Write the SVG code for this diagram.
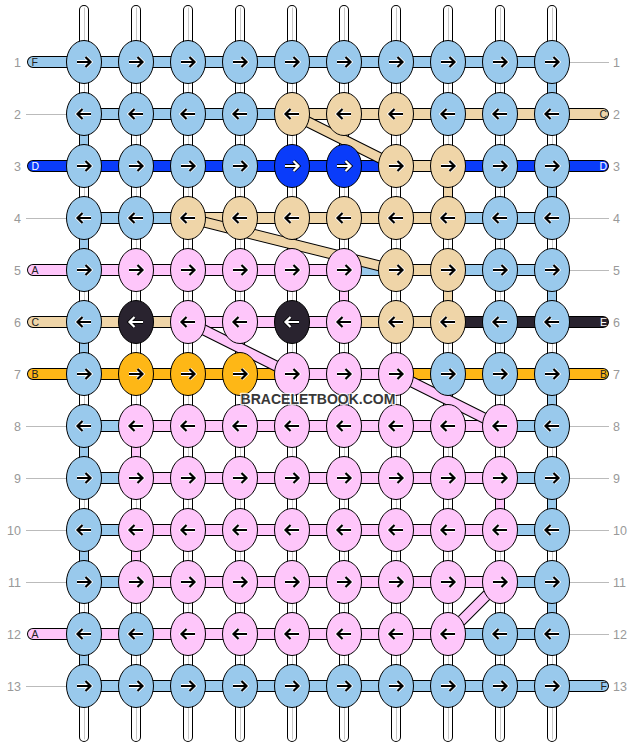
<svg xmlns="http://www.w3.org/2000/svg" width="636" height="748" viewBox="0 0 636 748">
<style>
.L{fill:#99c9ec}.T{fill:#efd5a8}.D{fill:#0a3cfa}.P{fill:#fec6fa}.K{fill:#29232f}.O{fill:#feb716}
.sL{stroke:#99c9ec}.sT{stroke:#efd5a8}.sD{stroke:#0a3cfa}.sP{stroke:#fec6fa}.sK{stroke:#29232f}.sO{stroke:#feb716}
.ho{stroke:#000;stroke-width:12;fill:none;stroke-linecap:round}
.hf{stroke-width:10;fill:none;stroke-linecap:round}
.vo{stroke:#000;stroke-width:10;fill:none}
.vf{stroke-width:8;fill:none}
.do{stroke:#000;stroke-width:11;fill:none}
.df{stroke-width:9;fill:none}
.num{font-family:"Liberation Sans",Arial,sans-serif;font-size:12.5px;fill:#999}
.lab{font-family:"Liberation Sans",Arial,sans-serif;font-size:10.5px;fill:#222}
.lw{fill:#fff}
.guide{stroke:#bbb;stroke-width:1}
.ah{stroke-width:3.8;fill:none}
.ab{stroke-width:2.2;fill:none}
</style>
<defs>
<ellipse id="e" cx="0" cy="0" rx="17.5" ry="21.5" stroke="#000" stroke-width="1"/>
<path id="pr" d="M-7 0H6M1.5-5L6.5 0L1.5 5"/>
<path id="pl" d="M7 0H-6M-1.5-5L-6.5 0L-1.5 5"/>
<g id="r"><use href="#pr" class="ah" stroke="#fff"/><use href="#pr" class="ab" stroke="#000"/></g>
<g id="l"><use href="#pl" class="ah" stroke="#fff"/><use href="#pl" class="ab" stroke="#000"/></g>
<g id="rw"><use href="#pr" class="ah" stroke="#000"/><use href="#pr" class="ab" stroke="#fff"/></g>
<g id="lw"><use href="#pl" class="ah" stroke="#000"/><use href="#pl" class="ab" stroke="#fff"/></g>
</defs>
<rect width="636" height="748" fill="#fff"/>
<g id="connectors">
<g id="tubes" fill="none" stroke-linecap="round">
<path stroke="#000" stroke-width="10" d="M84 10V737M136 10V737M188 10V737M240 10V737M292 10V737M344 10V737M396 10V737M448 10V737M500 10V737M552 10V737"/>
<path stroke="#fff" stroke-width="8" d="M84 10V737M136 10V737M188 10V737M240 10V737M292 10V737M344 10V737M396 10V737M448 10V737M500 10V737M552 10V737"/>
<path stroke="#c8c8c8" stroke-width="1" d="M84.5 8V739M136.5 8V739M188.5 8V739M240.5 8V739M292.5 8V739M344.5 8V739M396.5 8V739M448.5 8V739M500.5 8V739M552.5 8V739"/>
</g>
<g id="guides" class="guide">
<path d="M26 114.5H66M26 218.5H66M26 426.5H66M26 478.5H66M26 530.5H66M26 582.5H66M26 686.5H66"/>
<path d="M570 62.5H609M570 218.5H609M570 270.5H609M570 426.5H609M570 478.5H609M570 530.5H609M570 582.5H609M570 634.5H609"/>
</g>
<g id="strings">
<path class="ho" d="M33 62H552M84 114H603M33 166H603M84 218H552M33 270H552M33 322H603M33 374H603M84 426H552M84 478H552M84 530H552M84 582H552M33 634H552M84 686H603"/>
<path class="vo" d="M552 62V114M84 114V166M552 166V218M84 218V270M552 270V322M84 322V374M552 374V426M84 426V478M552 478V530M84 530V582M552 582V634M84 634V686M448 166V218M448 270V322M344 270V322M136 426V478M500 478V530M136 530V582"/>
<path class="hf sL" d="M33 62H552M84 114H292M84 218H188M448 218H552M344 270H396M448 270H552M84 426H136M500 426H552M84 478H136M500 478H552M84 530H136M500 530H552M84 582H136M500 582H552M448 634H552M84 686H603"/>
<path class="hf sT" d="M292 114H603M396 166H448M188 218H448M396 270H448M33 322H188M344 322H448"/>
<path class="hf sD" d="M33 166H396M448 166H603"/>
<path class="hf sP" d="M33 270H344M188 322H344M292 374H396M136 426H500M136 478H500M136 530H500M136 582H500M33 634H448"/>
<path class="hf sK" d="M448 322H603"/>
<path class="hf sO" d="M33 374H292M396 374H603"/>
<path class="vf sL" d="M552 62V114M84 114V166M552 166V218M84 218V270M552 270V322M84 322V374M552 374V426M84 426V478M552 478V530M84 530V582M552 582V634M84 634V686"/>
<path class="vf sT" d="M448 166V218M448 270V322"/>
<path class="vf sP" d="M344 270V322M136 426V478M500 478V530M136 530V582"/>
</g>
<g id="diagonals">
<path class="do" d="M292 114L396 166M188 218L396 270M188 322L292 374M396 374L500 426M500 582L448 634"/>
<path class="df sT" d="M292 114L396 166M188 218L396 270"/>
<path class="df sP" d="M188 322L292 374M396 374L500 426M500 582L448 634"/>
</g>
</g>
<g id="caps">
<text class="lab" x="31.5" y="66">F</text>
<text class="lab lw" x="31.5" y="170">D</text>
<text class="lab" x="31.5" y="274">A</text>
<text class="lab" x="31.5" y="326">C</text>
<text class="lab" x="31.5" y="378">B</text>
<text class="lab" x="31.5" y="638">A</text>
<text class="lab" x="607" y="118" text-anchor="end">C</text>
<text class="lab lw" x="607" y="170" text-anchor="end">D</text>
<text class="lab lw" x="607" y="326" text-anchor="end">E</text>
<text class="lab" x="607" y="378" text-anchor="end">B</text>
<text class="lab" x="607" y="690" text-anchor="end">F</text>
</g>
<g id="rownumbers" class="num">
<text x="21" y="66.5" text-anchor="end">1</text><text x="21" y="118.5" text-anchor="end">2</text><text x="21" y="170.5" text-anchor="end">3</text><text x="21" y="222.5" text-anchor="end">4</text><text x="21" y="274.5" text-anchor="end">5</text><text x="21" y="326.5" text-anchor="end">6</text><text x="21" y="378.5" text-anchor="end">7</text><text x="21" y="430.5" text-anchor="end">8</text><text x="21" y="482.5" text-anchor="end">9</text><text x="21" y="534.5" text-anchor="end">10</text><text x="21" y="586.5" text-anchor="end">11</text><text x="21" y="638.5" text-anchor="end">12</text><text x="21" y="690.5" text-anchor="end">13</text>
<text x="613" y="66.5">1</text><text x="613" y="118.5">2</text><text x="613" y="170.5">3</text><text x="613" y="222.5">4</text><text x="613" y="274.5">5</text><text x="613" y="326.5">6</text><text x="613" y="378.5">7</text><text x="613" y="430.5">8</text><text x="613" y="482.5">9</text><text x="613" y="534.5">10</text><text x="613" y="586.5">11</text><text x="613" y="638.5">12</text><text x="613" y="690.5">13</text>
</g>
<g id="knots">
<g id="k1-1"><use href="#e" class="L" x="84" y="62"/><use href="#r" x="84" y="62"/></g>
<g id="k1-2"><use href="#e" class="L" x="136" y="62"/><use href="#r" x="136" y="62"/></g>
<g id="k1-3"><use href="#e" class="L" x="188" y="62"/><use href="#r" x="188" y="62"/></g>
<g id="k1-4"><use href="#e" class="L" x="240" y="62"/><use href="#r" x="240" y="62"/></g>
<g id="k1-5"><use href="#e" class="L" x="292" y="62"/><use href="#r" x="292" y="62"/></g>
<g id="k1-6"><use href="#e" class="L" x="344" y="62"/><use href="#r" x="344" y="62"/></g>
<g id="k1-7"><use href="#e" class="L" x="396" y="62"/><use href="#r" x="396" y="62"/></g>
<g id="k1-8"><use href="#e" class="L" x="448" y="62"/><use href="#r" x="448" y="62"/></g>
<g id="k1-9"><use href="#e" class="L" x="500" y="62"/><use href="#r" x="500" y="62"/></g>
<g id="k1-10"><use href="#e" class="L" x="552" y="62"/><use href="#r" x="552" y="62"/></g>
<g id="k2-1"><use href="#e" class="L" x="84" y="114"/><use href="#l" x="84" y="114"/></g>
<g id="k2-2"><use href="#e" class="L" x="136" y="114"/><use href="#l" x="136" y="114"/></g>
<g id="k2-3"><use href="#e" class="L" x="188" y="114"/><use href="#l" x="188" y="114"/></g>
<g id="k2-4"><use href="#e" class="L" x="240" y="114"/><use href="#l" x="240" y="114"/></g>
<g id="k2-5"><use href="#e" class="T" x="292" y="114"/><use href="#l" x="292" y="114"/></g>
<g id="k2-6"><use href="#e" class="T" x="344" y="114"/><use href="#l" x="344" y="114"/></g>
<g id="k2-7"><use href="#e" class="T" x="396" y="114"/><use href="#l" x="396" y="114"/></g>
<g id="k2-8"><use href="#e" class="L" x="448" y="114"/><use href="#l" x="448" y="114"/></g>
<g id="k2-9"><use href="#e" class="L" x="500" y="114"/><use href="#l" x="500" y="114"/></g>
<g id="k2-10"><use href="#e" class="L" x="552" y="114"/><use href="#l" x="552" y="114"/></g>
<g id="k3-1"><use href="#e" class="L" x="84" y="166"/><use href="#r" x="84" y="166"/></g>
<g id="k3-2"><use href="#e" class="L" x="136" y="166"/><use href="#r" x="136" y="166"/></g>
<g id="k3-3"><use href="#e" class="L" x="188" y="166"/><use href="#r" x="188" y="166"/></g>
<g id="k3-4"><use href="#e" class="L" x="240" y="166"/><use href="#r" x="240" y="166"/></g>
<g id="k3-5"><use href="#e" class="D" x="292" y="166"/><use href="#rw" x="292" y="166"/></g>
<g id="k3-6"><use href="#e" class="D" x="344" y="166"/><use href="#rw" x="344" y="166"/></g>
<g id="k3-7"><use href="#e" class="T" x="396" y="166"/><use href="#r" x="396" y="166"/></g>
<g id="k3-8"><use href="#e" class="T" x="448" y="166"/><use href="#r" x="448" y="166"/></g>
<g id="k3-9"><use href="#e" class="L" x="500" y="166"/><use href="#r" x="500" y="166"/></g>
<g id="k3-10"><use href="#e" class="L" x="552" y="166"/><use href="#r" x="552" y="166"/></g>
<g id="k4-1"><use href="#e" class="L" x="84" y="218"/><use href="#l" x="84" y="218"/></g>
<g id="k4-2"><use href="#e" class="L" x="136" y="218"/><use href="#l" x="136" y="218"/></g>
<g id="k4-3"><use href="#e" class="T" x="188" y="218"/><use href="#l" x="188" y="218"/></g>
<g id="k4-4"><use href="#e" class="T" x="240" y="218"/><use href="#l" x="240" y="218"/></g>
<g id="k4-5"><use href="#e" class="T" x="292" y="218"/><use href="#l" x="292" y="218"/></g>
<g id="k4-6"><use href="#e" class="T" x="344" y="218"/><use href="#l" x="344" y="218"/></g>
<g id="k4-7"><use href="#e" class="T" x="396" y="218"/><use href="#l" x="396" y="218"/></g>
<g id="k4-8"><use href="#e" class="T" x="448" y="218"/><use href="#l" x="448" y="218"/></g>
<g id="k4-9"><use href="#e" class="L" x="500" y="218"/><use href="#l" x="500" y="218"/></g>
<g id="k4-10"><use href="#e" class="L" x="552" y="218"/><use href="#l" x="552" y="218"/></g>
<g id="k5-1"><use href="#e" class="L" x="84" y="270"/><use href="#r" x="84" y="270"/></g>
<g id="k5-2"><use href="#e" class="P" x="136" y="270"/><use href="#r" x="136" y="270"/></g>
<g id="k5-3"><use href="#e" class="P" x="188" y="270"/><use href="#r" x="188" y="270"/></g>
<g id="k5-4"><use href="#e" class="P" x="240" y="270"/><use href="#r" x="240" y="270"/></g>
<g id="k5-5"><use href="#e" class="P" x="292" y="270"/><use href="#r" x="292" y="270"/></g>
<g id="k5-6"><use href="#e" class="P" x="344" y="270"/><use href="#r" x="344" y="270"/></g>
<g id="k5-7"><use href="#e" class="T" x="396" y="270"/><use href="#r" x="396" y="270"/></g>
<g id="k5-8"><use href="#e" class="T" x="448" y="270"/><use href="#r" x="448" y="270"/></g>
<g id="k5-9"><use href="#e" class="L" x="500" y="270"/><use href="#r" x="500" y="270"/></g>
<g id="k5-10"><use href="#e" class="L" x="552" y="270"/><use href="#r" x="552" y="270"/></g>
<g id="k6-1"><use href="#e" class="L" x="84" y="322"/><use href="#l" x="84" y="322"/></g>
<g id="k6-2"><use href="#e" class="K" x="136" y="322"/><use href="#lw" x="136" y="322"/></g>
<g id="k6-3"><use href="#e" class="P" x="188" y="322"/><use href="#l" x="188" y="322"/></g>
<g id="k6-4"><use href="#e" class="P" x="240" y="322"/><use href="#l" x="240" y="322"/></g>
<g id="k6-5"><use href="#e" class="K" x="292" y="322"/><use href="#lw" x="292" y="322"/></g>
<g id="k6-6"><use href="#e" class="P" x="344" y="322"/><use href="#l" x="344" y="322"/></g>
<g id="k6-7"><use href="#e" class="T" x="396" y="322"/><use href="#l" x="396" y="322"/></g>
<g id="k6-8"><use href="#e" class="T" x="448" y="322"/><use href="#l" x="448" y="322"/></g>
<g id="k6-9"><use href="#e" class="L" x="500" y="322"/><use href="#l" x="500" y="322"/></g>
<g id="k6-10"><use href="#e" class="L" x="552" y="322"/><use href="#l" x="552" y="322"/></g>
<g id="k7-1"><use href="#e" class="L" x="84" y="374"/><use href="#r" x="84" y="374"/></g>
<g id="k7-2"><use href="#e" class="O" x="136" y="374"/><use href="#r" x="136" y="374"/></g>
<g id="k7-3"><use href="#e" class="O" x="188" y="374"/><use href="#r" x="188" y="374"/></g>
<g id="k7-4"><use href="#e" class="O" x="240" y="374"/><use href="#r" x="240" y="374"/></g>
<g id="k7-5"><use href="#e" class="P" x="292" y="374"/><use href="#r" x="292" y="374"/></g>
<g id="k7-6"><use href="#e" class="P" x="344" y="374"/><use href="#r" x="344" y="374"/></g>
<g id="k7-7"><use href="#e" class="P" x="396" y="374"/><use href="#r" x="396" y="374"/></g>
<g id="k7-8"><use href="#e" class="L" x="448" y="374"/><use href="#r" x="448" y="374"/></g>
<g id="k7-9"><use href="#e" class="L" x="500" y="374"/><use href="#r" x="500" y="374"/></g>
<g id="k7-10"><use href="#e" class="L" x="552" y="374"/><use href="#r" x="552" y="374"/></g>
<g id="k8-1"><use href="#e" class="L" x="84" y="426"/><use href="#l" x="84" y="426"/></g>
<g id="k8-2"><use href="#e" class="P" x="136" y="426"/><use href="#l" x="136" y="426"/></g>
<g id="k8-3"><use href="#e" class="P" x="188" y="426"/><use href="#l" x="188" y="426"/></g>
<g id="k8-4"><use href="#e" class="P" x="240" y="426"/><use href="#l" x="240" y="426"/></g>
<g id="k8-5"><use href="#e" class="P" x="292" y="426"/><use href="#l" x="292" y="426"/></g>
<g id="k8-6"><use href="#e" class="P" x="344" y="426"/><use href="#l" x="344" y="426"/></g>
<g id="k8-7"><use href="#e" class="P" x="396" y="426"/><use href="#l" x="396" y="426"/></g>
<g id="k8-8"><use href="#e" class="P" x="448" y="426"/><use href="#l" x="448" y="426"/></g>
<g id="k8-9"><use href="#e" class="P" x="500" y="426"/><use href="#l" x="500" y="426"/></g>
<g id="k8-10"><use href="#e" class="L" x="552" y="426"/><use href="#l" x="552" y="426"/></g>
<g id="k9-1"><use href="#e" class="L" x="84" y="478"/><use href="#r" x="84" y="478"/></g>
<g id="k9-2"><use href="#e" class="P" x="136" y="478"/><use href="#r" x="136" y="478"/></g>
<g id="k9-3"><use href="#e" class="P" x="188" y="478"/><use href="#r" x="188" y="478"/></g>
<g id="k9-4"><use href="#e" class="P" x="240" y="478"/><use href="#r" x="240" y="478"/></g>
<g id="k9-5"><use href="#e" class="P" x="292" y="478"/><use href="#r" x="292" y="478"/></g>
<g id="k9-6"><use href="#e" class="P" x="344" y="478"/><use href="#r" x="344" y="478"/></g>
<g id="k9-7"><use href="#e" class="P" x="396" y="478"/><use href="#r" x="396" y="478"/></g>
<g id="k9-8"><use href="#e" class="P" x="448" y="478"/><use href="#r" x="448" y="478"/></g>
<g id="k9-9"><use href="#e" class="P" x="500" y="478"/><use href="#r" x="500" y="478"/></g>
<g id="k9-10"><use href="#e" class="L" x="552" y="478"/><use href="#r" x="552" y="478"/></g>
<g id="k10-1"><use href="#e" class="L" x="84" y="530"/><use href="#l" x="84" y="530"/></g>
<g id="k10-2"><use href="#e" class="P" x="136" y="530"/><use href="#l" x="136" y="530"/></g>
<g id="k10-3"><use href="#e" class="P" x="188" y="530"/><use href="#l" x="188" y="530"/></g>
<g id="k10-4"><use href="#e" class="P" x="240" y="530"/><use href="#l" x="240" y="530"/></g>
<g id="k10-5"><use href="#e" class="P" x="292" y="530"/><use href="#l" x="292" y="530"/></g>
<g id="k10-6"><use href="#e" class="P" x="344" y="530"/><use href="#l" x="344" y="530"/></g>
<g id="k10-7"><use href="#e" class="P" x="396" y="530"/><use href="#l" x="396" y="530"/></g>
<g id="k10-8"><use href="#e" class="P" x="448" y="530"/><use href="#l" x="448" y="530"/></g>
<g id="k10-9"><use href="#e" class="P" x="500" y="530"/><use href="#l" x="500" y="530"/></g>
<g id="k10-10"><use href="#e" class="L" x="552" y="530"/><use href="#l" x="552" y="530"/></g>
<g id="k11-1"><use href="#e" class="L" x="84" y="582"/><use href="#r" x="84" y="582"/></g>
<g id="k11-2"><use href="#e" class="P" x="136" y="582"/><use href="#r" x="136" y="582"/></g>
<g id="k11-3"><use href="#e" class="P" x="188" y="582"/><use href="#r" x="188" y="582"/></g>
<g id="k11-4"><use href="#e" class="P" x="240" y="582"/><use href="#r" x="240" y="582"/></g>
<g id="k11-5"><use href="#e" class="P" x="292" y="582"/><use href="#r" x="292" y="582"/></g>
<g id="k11-6"><use href="#e" class="P" x="344" y="582"/><use href="#r" x="344" y="582"/></g>
<g id="k11-7"><use href="#e" class="P" x="396" y="582"/><use href="#r" x="396" y="582"/></g>
<g id="k11-8"><use href="#e" class="P" x="448" y="582"/><use href="#r" x="448" y="582"/></g>
<g id="k11-9"><use href="#e" class="P" x="500" y="582"/><use href="#r" x="500" y="582"/></g>
<g id="k11-10"><use href="#e" class="L" x="552" y="582"/><use href="#r" x="552" y="582"/></g>
<g id="k12-1"><use href="#e" class="L" x="84" y="634"/><use href="#l" x="84" y="634"/></g>
<g id="k12-2"><use href="#e" class="L" x="136" y="634"/><use href="#l" x="136" y="634"/></g>
<g id="k12-3"><use href="#e" class="P" x="188" y="634"/><use href="#l" x="188" y="634"/></g>
<g id="k12-4"><use href="#e" class="P" x="240" y="634"/><use href="#l" x="240" y="634"/></g>
<g id="k12-5"><use href="#e" class="P" x="292" y="634"/><use href="#l" x="292" y="634"/></g>
<g id="k12-6"><use href="#e" class="P" x="344" y="634"/><use href="#l" x="344" y="634"/></g>
<g id="k12-7"><use href="#e" class="P" x="396" y="634"/><use href="#l" x="396" y="634"/></g>
<g id="k12-8"><use href="#e" class="P" x="448" y="634"/><use href="#l" x="448" y="634"/></g>
<g id="k12-9"><use href="#e" class="L" x="500" y="634"/><use href="#l" x="500" y="634"/></g>
<g id="k12-10"><use href="#e" class="L" x="552" y="634"/><use href="#l" x="552" y="634"/></g>
<g id="k13-1"><use href="#e" class="L" x="84" y="686"/><use href="#r" x="84" y="686"/></g>
<g id="k13-2"><use href="#e" class="L" x="136" y="686"/><use href="#r" x="136" y="686"/></g>
<g id="k13-3"><use href="#e" class="L" x="188" y="686"/><use href="#r" x="188" y="686"/></g>
<g id="k13-4"><use href="#e" class="L" x="240" y="686"/><use href="#r" x="240" y="686"/></g>
<g id="k13-5"><use href="#e" class="L" x="292" y="686"/><use href="#r" x="292" y="686"/></g>
<g id="k13-6"><use href="#e" class="L" x="344" y="686"/><use href="#r" x="344" y="686"/></g>
<g id="k13-7"><use href="#e" class="L" x="396" y="686"/><use href="#r" x="396" y="686"/></g>
<g id="k13-8"><use href="#e" class="L" x="448" y="686"/><use href="#r" x="448" y="686"/></g>
<g id="k13-9"><use href="#e" class="L" x="500" y="686"/><use href="#r" x="500" y="686"/></g>
<g id="k13-10"><use href="#e" class="L" x="552" y="686"/><use href="#r" x="552" y="686"/></g>
</g>
<text x="318" y="404" text-anchor="middle" font-family="'Liberation Sans',Arial,sans-serif" font-size="14" font-weight="bold" fill="#383838" stroke="#fff" stroke-opacity="0.8" stroke-width="2.5" paint-order="stroke" stroke-linejoin="round">BRACELETBOOK.COM</text>
</svg>
